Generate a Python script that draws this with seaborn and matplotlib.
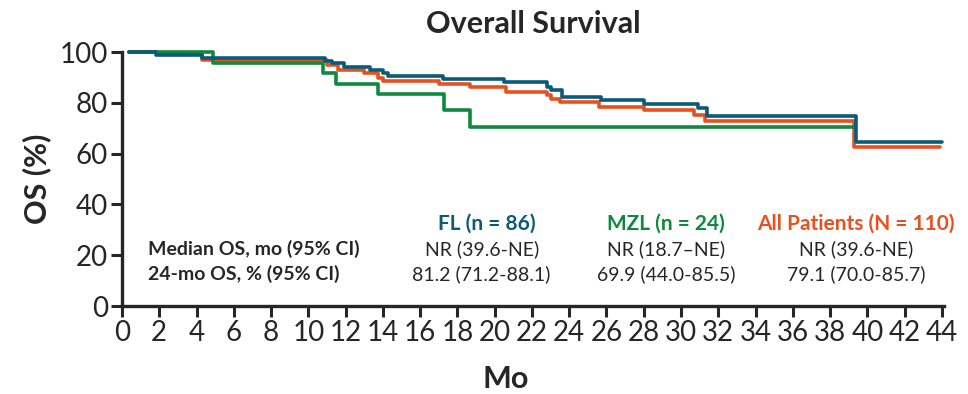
import matplotlib
matplotlib.use("Agg")
import matplotlib.pyplot as plt
import seaborn as sns
import pandas as pd

# Kaplan-Meier step data
fl_t = [0.4, 1.8, 4.3, 10.9, 11.25, 11.9, 13.3, 14.0, 14.3, 17.2, 20.5, 22.8, 23.0, 23.6, 25.7, 28.0, 30.9, 31.4, 39.4, 44.0]
fl_s = [100, 98.7, 97.8, 96.6, 95.5, 94.2, 92.9, 91.6, 90.5, 89.4, 88.1, 86.3, 85.0, 82.4, 81.1, 79.7, 77.8, 74.9, 64.4, 64.4]

all_t = [0.4, 1.9, 4.3, 11.0, 11.6, 13.0, 13.75, 14.0, 17.0, 18.7, 20.6, 22.8, 23.0, 23.5, 25.6, 28.0, 30.7, 31.3, 39.3, 43.9]
all_s = [100, 99.1, 97.0, 94.9, 92.9, 91.6, 89.6, 88.7, 87.3, 86.1, 84.1, 83.1, 81.4, 80.4, 78.5, 77.2, 75.2, 73.0, 62.7, 62.7]

mzl_t = [0.4, 4.9, 10.8, 11.5, 13.75, 17.3, 18.7, 39.3]
mzl_s = [100, 95.8, 91.7, 87.5, 83.3, 77.2, 70.6, 70.6]

groups = ["All Patients (N = 110)", "MZL (n = 24)", "FL (n = 86)"]
colors = {"FL (n = 86)": "#0b5b78", "MZL (n = 24)": "#0e8a3f", "All Patients (N = 110)": "#e8501e"}

row_labels = ["Median OS, mo (95% CI)", "24-mo OS, % (95% CI)"]
table_cols = ["FL (n = 86)", "MZL (n = 24)", "All Patients (N = 110)"]
table_vals = {
    "FL (n = 86)": ["NR (39.6-NE)", "81.2 (71.2-88.1)"],
    "MZL (n = 24)": ["NR (18.7\u2013NE)", "69.9 (44.0-85.5)"],
    "All Patients (N = 110)": ["NR (39.6-NE)", "79.1 (70.0-85.7)"],
}

df = pd.concat([
    pd.DataFrame({"t": all_t, "s": all_s, "grp": groups[0]}),
    pd.DataFrame({"t": mzl_t, "s": mzl_s, "grp": groups[1]}),
    pd.DataFrame({"t": fl_t, "s": fl_s, "grp": groups[2]}),
])

sns.set_style("ticks")
plt.rcParams['font.family'] = ['Lato', 'DejaVu Sans']

fig = plt.figure(figsize=(9.68, 3.94), dpi=100)
ax = fig.add_axes([0.126, 0.223, 0.849, 0.645])

for g in groups:
    sub = df[df["grp"] == g]
    sns.lineplot(data=sub, x="t", y="s", ax=ax, color=colors[g], lw=2.6,
                 drawstyle="steps-post", estimator=None, sort=False, clip_on=False)

ax.set_xlim(0, 44.1)
ax.set_ylim(0, 100)
ax.set_xticks(range(0, 45, 2))
ax.set_yticks(range(0, 101, 20))
ax.tick_params(axis="both", labelsize=20, width=2.2, length=8, pad=2)
for sp in ["top", "right"]:
    ax.spines[sp].set_visible(False)
for sp in ["left", "bottom"]:
    ax.spines[sp].set_linewidth(2.4)

ax.set_xlabel("Mo", fontsize=22, fontweight="bold", labelpad=14)
ax.xaxis.set_label_coords(0.467, -0.23)
ax.set_ylabel("OS (%)", fontsize=22, fontweight="bold", labelpad=6)
ax.set_title("Overall Survival", fontsize=22, fontweight="bold", pad=14)

head_x = [19.6, 29.2, 39.4]
val_x = [19.3, 29.2, 39.4]
for hx, vx, c in zip(head_x, val_x, table_cols):
    ax.text(hx, 32.6, c, color=colors[c], fontsize=15, fontweight="bold", ha="center", va="center")
    for i, v in enumerate(table_vals[c]):
        ax.text(vx, 22.6 - i * 10, v, fontsize=14, ha="center", va="center")
for i, r in enumerate(row_labels):
    ax.text(1.4, 22.6 - i * 10, r, fontsize=14, fontweight="bold", ha="left", va="center")

fig.savefig("out.png", dpi=100)
